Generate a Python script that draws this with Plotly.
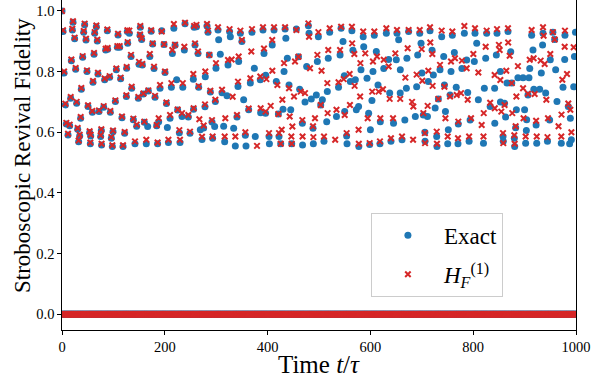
import plotly.graph_objects as go

# ---------------- data ----------------
# Exact evolution: revival fidelity at stroboscopic times (non-zero branch)
exact_t = [0, 2, 4, 6.5, 8.4, 11.7, 14.9, 16.9, 18.2, 20.1, 21.4, 24.6, 26.6, 28.5, 30.5, 32.4, 34.4, 36.3, 37.6, 40.2,
           42.2, 44.1, 46.7, 48.6, 50.6, 53.8, 55.1, 55.8, 59, 60.3, 62.3, 63.6, 66.8, 68.7, 70, 72, 75.2, 76.5, 77.0,
           81.1, 83, 85, 88.2, 88.8, 92.7, 94, 96, 97.9, 99.2, 103.8, 105.7, 107.7, 109, 112.2, 114.1, 116.7, 118.7,
           121.9, 125.2, 125.8, 127.1, 127.8,
           131, 134.3, 135.6, 138.8, 142, 145.3, 148.5, 149.8, 151.8, 152.4, 155, 156.3, 158.3, 160.2, 164, 166.7, 168,
           170.9, 173.5, 176.4, 179, 181, 184.2, 186, 188.1, 190.7, 194, 198.5, 200.4, 203.2, 205, 207, 210.2, 212.8,
           214.7, 217.6, 219.9, 223.1, 225, 228.3, 229.6, 233.5, 235, 238, 239.3, 245.8, 249,
           255.5, 256, 257, 258.8, 261.6, 264.6, 265.9, 269.1, 272.4, 275.6, 278.2, 278.8, 282.1, 284, 286.6, 288.6,
           291.8, 293, 297, 298.3, 299.6, 303.5, 304.8, 308, 311.3, 314.5, 316.5, 321, 323, 326, 327.5, 334, 337.2,
           340.4, 342.4, 343.7, 347, 350, 353.4, 356.7, 358, 363.2, 366.4, 369.6, 374.2, 376, 385.8, 386.5,
           391, 393, 396.3, 396, 402.8, 403.5, 409, 412.5, 416.9, 421, 422.2, 425.5, 430, 432, 434, 435.5, 438.4,
           441.7, 445, 446.9, 456, 460, 462.4, 467.6, 468, 472.8, 476, 479.3, 480.6, 485, 488.3, 489, 494.8, 496.8,
           498.8, 503.3, 506.5, 509.7, 515, 516.2, 518, 520.8, 534,
           538, 541, 543, 546.7, 549.3, 550, 553.8, 554.5, 561, 564, 566, 570.7, 572.6, 577, 577.5, 581.7, 586, 587,
           593.4, 596.6, 598.6, 600, 603, 605, 607.6, 611.5, 614.8, 619.3, 618.6, 626, 631, 635.5, 637.5, 640, 645,
           650.4, 651.7, 655, 658, 658.2, 661.5, 667, 670, 671, 674.4, 687.4,
           690, 692, 696, 698.5, 700.3, 703, 706, 706.3, 711, 712.7, 716, 720, 722.5, 726, 729, 729.5, 732.2, 735.4,
           738.7, 742.6, 744, 746, 750.4, 751.6, 755, 756.8, 759.4, 763.3, 767, 771, 770.4, 778, 782.8, 787.3, 789.3,
           792, 794, 802.2, 803.5, 806.8, 810, 820, 821.7, 824.3, 826.2, 833,
           841.7, 842, 845, 846.3, 852.8, 853, 858, 858.5, 861, 863, 865.7, 867.7, 873, 875, 880, 880.7, 882.6, 884,
           887, 897, 900, 902, 903.4, 904, 906.6, 908.5, 910, 913.7, 916.3, 918, 922.4, 923.6, 929.3, 932.5, 935.8,
           935, 941, 944.5, 948.7, 950, 955, 958.5, 960.4, 963, 971.4, 974.7, 978, 978.5, 985, 987.6, 989, 991,
           995.5, 997, 999]
exact_f = [1.0, 0.932, 0.795, 0.690, 0.627, 0.591, 0.621, 0.712, 0.836, 0.937, 0.963, 0.908, 0.808, 0.696, 0.610,
           0.569, 0.588, 0.646, 0.742, 0.847, 0.930, 0.954, 0.904, 0.800, 0.685, 0.599, 0.562, 0.588, 0.666, 0.765,
           0.857, 0.926, 0.948, 0.901, 0.792, 0.668, 0.586, 0.606, 0.558, 0.682, 0.773, 0.871, 0.935, 0.874, 0.781,
           0.666, 0.580, 0.553, 0.602, 0.701, 0.806, 0.880, 0.921, 0.880, 0.776, 0.648, 0.553, 0.597, 0.718, 0.811,
           0.932, 0.893,
           0.926, 0.850, 0.745, 0.641, 0.562, 0.620, 0.712, 0.824, 0.920, 0.946, 0.906, 0.822, 0.726, 0.633, 0.562,
           0.619, 0.736, 0.850, 0.933, 0.891, 0.810, 0.715, 0.621, 0.562, 0.635, 0.745, 0.935, 0.889, 0.797, 0.695,
           0.616, 0.566, 0.646, 0.748, 0.860, 0.943, 0.887, 0.773, 0.673, 0.598, 0.566, 0.652, 0.748, 0.871, 0.958,
           0.650, 0.597,
           0.775, 0.676, 0.946, 0.888, 0.948, 0.860, 0.748, 0.608, 0.576, 0.614, 0.684, 0.783, 0.950, 0.930, 0.855,
           0.733, 0.634, 0.580, 0.619, 0.701, 0.811, 0.937, 0.905, 0.857, 0.730, 0.620, 0.569, 0.720, 0.822, 0.932,
           0.915, 0.613, 0.555, 0.650, 0.751, 0.833, 0.926, 0.899, 0.707, 0.590, 0.555, 0.674, 0.762, 0.930, 0.811,
           0.586, 0.773, 0.664,
           0.937, 0.860, 0.788, 0.663, 0.586, 0.562, 0.888, 0.937, 0.767, 0.660, 0.586, 0.562, 0.676, 0.800, 0.940,
           0.910, 0.844, 0.756, 0.674, 0.562, 0.940, 0.849, 0.742, 0.630, 0.558, 0.700, 0.817, 0.951, 0.926, 0.710,
           0.613, 0.562, 0.723, 0.833, 0.915, 0.690, 0.707, 0.570, 0.635, 0.734, 0.844, 0.930, 0.652,
           0.748, 0.855, 0.943, 0.899, 0.786, 0.668, 0.588, 0.562, 0.767, 0.935, 0.870, 0.773, 0.674, 0.685, 0.553,
           0.806, 0.915, 0.882, 0.778, 0.663, 0.560, 0.608, 0.705, 0.800, 0.920, 0.866, 0.756, 0.635, 0.562, 0.810,
           0.926, 0.840, 0.729, 0.570, 0.630, 0.839, 0.926, 0.905, 0.729, 0.806, 0.575, 0.640, 0.745, 0.844, 0.932,
           0.652,
           0.750, 0.855, 0.926, 0.893, 0.795, 0.657, 0.600, 0.570, 0.652, 0.767, 0.935, 0.870, 0.789, 0.680, 0.586,
           0.553, 0.710, 0.806, 0.915, 0.850, 0.756, 0.668, 0.562, 0.608, 0.723, 0.800, 0.920, 0.863, 0.748, 0.627,
           0.562, 0.810, 0.926, 0.838, 0.731, 0.570, 0.640, 0.833, 0.926, 0.893, 0.707, 0.564, 0.745, 0.844, 0.926,
           0.685,
           0.745, 0.630, 0.855, 0.926, 0.800, 0.700, 0.586, 0.570, 0.696, 0.650, 0.762, 0.932, 0.865, 0.762, 0.580,
           0.553, 0.615, 0.674, 0.780, 0.780, 0.674, 0.564, 0.606, 0.641, 0.723, 0.780, 0.810, 0.920, 0.871, 0.742,
           0.624, 0.564, 0.742, 0.795, 0.926, 0.888, 0.729, 0.570, 0.640, 0.839, 0.930, 0.906, 0.806, 0.701, 0.564,
           0.748, 0.840, 0.920, 0.685, 0.562, 0.646, 0.575, 0.750, 0.850, 0.930]

# First-order Floquet Hamiltonian H_F^(1): same quantity (non-zero branch)
hf_t = [0, 2, 4, 6.5, 8.4, 11.7, 14.9, 16.9, 18.2, 20.1, 21.4, 24.6, 26.6, 28.5, 30.5, 32.4, 34.4, 36.3, 37.6, 40.2,
        42.2, 44.1, 46.7, 48.6, 50.6, 53.8, 55.1, 55.8, 59, 60.3, 62.3, 63.6, 66.8, 68.7, 70, 72, 75.2, 76.5, 77.0,
        81.1, 83, 85, 88.2, 88.8, 92.7, 94, 96, 97.9, 99.2, 103.8, 105.7, 107.7, 109, 112.2, 114.1, 116.7, 118.7,
        121.9, 125.2, 125.8, 127.1, 127.8,
        131, 134.3, 135.6, 138.8, 142, 145.3, 148.5, 149.8, 151.8, 152.4, 155, 156.3, 158.3, 160.2, 164, 168,
        170.9, 173.5, 176.4, 179, 181, 184.2, 186, 188.1, 190.7, 194, 198.5, 200.4, 203.2, 207, 210.2, 212.8,
        214.7, 217.6, 219.9, 225, 228.3, 229.6, 233.5, 235, 238, 239.3, 245.8, 249,
        255.5, 256, 257, 258.8, 261.6, 264.6, 265.9, 267.2, 272.4, 275.6, 278.2, 278.8, 282.1, 284, 286.6, 288.6,
        291.8, 293, 298.3, 299.6, 303.5, 311.3, 317.7, 316.5, 323, 326, 330, 332, 337.2, 340.4, 342.4, 343.7, 347,
        350, 356.7, 363.2, 366.4, 369.6, 368.3, 379.4, 385.8, 386.5,
        391, 393, 397.6, 396, 402.8, 406, 409, 409.2, 412.5, 419, 421, 422.2, 425.5, 427.4, 428.7, 432, 434, 441.7,
        443, 446.2, 446.9, 448.2, 451.4, 453.3, 456, 460, 464.4, 467.6, 468, 472.8, 479.3, 480.6, 482.5, 488.3,
        489, 492.2, 496.8, 498.8, 503.3, 505, 509.7, 516.2, 516.8, 518, 520.8, 531.5, 534,
        538, 541, 543, 548, 550, 553.8, 559.6, 560.2, 564, 564.5, 568.7, 569.3, 577, 577.5, 580, 580.5, 586, 590,
        594.7, 598.6, 603.5, 605, 607.6, 612.8, 616, 619.3, 618.6, 624.5, 626, 631, 635.5, 637.5, 640, 644, 648.5,
        651.7, 658, 661.5, 668, 672.5, 674.4, 681, 683, 683.5,
        690, 696, 699.8, 701, 703, 706, 706.3, 711.4, 712.7, 716, 716.5, 720.5, 721, 729, 729.5, 732.2, 735.4,
        738.7, 744, 746, 750.4, 755, 756.8, 759.4, 764.6, 767.9, 771, 770.4, 776.3, 778, 782.8, 787.3, 789.3, 792,
        795.8, 800.3, 803.5, 810, 816.5, 820, 820.5, 824.3, 826.2, 833,
        841.7, 842, 846.3, 850, 851.5, 852.8, 854.7, 858, 858.5, 861, 864.4, 867.7, 868, 871, 875, 876, 880, 880.7,
        882.6, 884, 887, 897, 898, 902, 906.6, 910, 913.7, 917.6, 919.6, 922.4, 923.6, 931.2, 935.8, 937, 939,
        942.3, 944.5, 945.5, 950, 955, 958.5, 966, 971.4, 971.8, 973.4, 978, 978.5, 982.5, 985, 989, 991, 995.5]
hf_f = [1.0, 0.936, 0.800, 0.694, 0.631, 0.595, 0.625, 0.716, 0.840, 0.941, 0.966, 0.912, 0.812, 0.700, 0.614,
        0.573, 0.592, 0.650, 0.746, 0.851, 0.934, 0.958, 0.908, 0.804, 0.689, 0.603, 0.566, 0.592, 0.670, 0.769,
        0.861, 0.930, 0.952, 0.905, 0.796, 0.672, 0.590, 0.610, 0.562, 0.686, 0.777, 0.875, 0.939, 0.878, 0.785,
        0.670, 0.584, 0.557, 0.606, 0.705, 0.810, 0.884, 0.925, 0.884, 0.780, 0.652, 0.557, 0.601, 0.722, 0.815,
        0.936, 0.897,
        0.935, 0.855, 0.750, 0.645, 0.570, 0.625, 0.716, 0.832, 0.922, 0.950, 0.910, 0.825, 0.728, 0.635, 0.575,
        0.738, 0.858, 0.936, 0.893, 0.816, 0.720, 0.624, 0.566, 0.646, 0.756, 0.932, 0.890, 0.800, 0.698, 0.575,
        0.657, 0.762, 0.871, 0.957, 0.889, 0.675, 0.607, 0.575, 0.663, 0.762, 0.882, 0.961, 0.657, 0.602,
        0.792, 0.679, 0.950, 0.893, 0.954, 0.866, 0.752, 0.643, 0.585, 0.622, 0.692, 0.800, 0.957, 0.935, 0.855,
        0.737, 0.640, 0.586, 0.707, 0.828, 0.946, 0.740, 0.646, 0.586, 0.838, 0.940, 0.840, 0.717, 0.586, 0.657,
        0.767, 0.850, 0.935, 0.904, 0.600, 0.678, 0.778, 0.940, 0.866, 0.555, 0.784, 0.679,
        0.946, 0.876, 0.775, 0.668, 0.597, 0.687, 0.904, 0.803, 0.946, 0.756, 0.660, 0.597, 0.562, 0.608, 0.707,
        0.828, 0.946, 0.745, 0.652, 0.586, 0.562, 0.619, 0.718, 0.833, 0.937, 0.849, 0.734, 0.640, 0.586, 0.729,
        0.959, 0.915, 0.811, 0.620, 0.584, 0.646, 0.855, 0.930, 0.690, 0.803, 0.586, 0.762, 0.663, 0.871, 0.943,
        0.575, 0.674,
        0.765, 0.871, 0.948, 0.775, 0.657, 0.597, 0.792, 0.690, 0.948, 0.893, 0.858, 0.753, 0.608, 0.562, 0.718,
        0.828, 0.932, 0.860, 0.646, 0.564, 0.734, 0.833, 0.932, 0.850, 0.734, 0.646, 0.570, 0.742, 0.839, 0.943,
        0.817, 0.710, 0.580, 0.646, 0.860, 0.937, 0.710, 0.586, 0.780, 0.877, 0.937, 0.700, 0.575, 0.685,
        0.790, 0.937, 0.874, 0.770, 0.663, 0.597, 0.564, 0.687, 0.803, 0.946, 0.896, 0.858, 0.753, 0.602, 0.562,
        0.710, 0.822, 0.935, 0.750, 0.646, 0.586, 0.718, 0.833, 0.932, 0.844, 0.723, 0.635, 0.580, 0.729, 0.836,
        0.950, 0.811, 0.707, 0.586, 0.646, 0.858, 0.943, 0.797, 0.624, 0.586, 0.663, 0.882, 0.935, 0.697,
        0.789, 0.679, 0.940, 0.888, 0.871, 0.772, 0.668, 0.597, 0.564, 0.690, 0.803, 0.943, 0.896, 0.852, 0.762,
        0.663, 0.590, 0.562, 0.620, 0.718, 0.818, 0.745, 0.646, 0.586, 0.727, 0.839, 0.937, 0.844, 0.726, 0.638,
        0.586, 0.836, 0.946, 0.918, 0.825, 0.707, 0.584, 0.646, 0.858, 0.930, 0.906, 0.620, 0.586, 0.658, 0.773,
        0.882, 0.935, 0.792, 0.695, 0.674, 0.600, 0.880]

# all other stroboscopic times: fidelity ~ 0 (both methods)
zero_t = list(range(0, 1001))
zero_f = [0.0] * len(zero_t)

x_ticks = [0, 200, 400, 600, 800, 1000]
y_ticks = [0.0, 0.2, 0.4, 0.6, 0.8, 1.0]

BLUE = "#1f77b4"
RED = "#d62728"
FONT = "Liberation Serif"

fig = go.Figure()
fig.add_trace(go.Scatter(x=zero_t, y=zero_f, mode="markers", showlegend=False, hoverinfo="skip",
                         marker=dict(color=BLUE, size=7, symbol="circle")))
fig.add_trace(go.Scatter(x=exact_t, y=exact_f, mode="markers", name="Exact", legendgroup="a",
                         marker=dict(color=BLUE, size=7, symbol="circle")))
fig.add_trace(go.Scatter(x=zero_t, y=zero_f, mode="markers", showlegend=False, hoverinfo="skip",
                         marker=dict(color=RED, size=5.5, symbol="x-thin", line=dict(color=RED, width=2))))
fig.add_trace(go.Scatter(x=hf_t, y=hf_f, mode="markers", legendgroup="b",
                         name="<i>H</i><sub><i>F</i></sub><sup>(1)</sup>",
                         marker=dict(color=RED, size=5.5, symbol="x-thin", line=dict(color=RED, width=2))))

fig.update_layout(
    width=614, height=381,
    margin=dict(l=62, r=38, t=0, b=51),
    paper_bgcolor="white", plot_bgcolor="white",
    font=dict(family=FONT, color="black", size=14),
    showlegend=True,
    legend=dict(x=0.601, y=0.355, xanchor="left", yanchor="top",
                bgcolor="white", bordercolor="#cccccc", borderwidth=1,
                font=dict(family=FONT, size=23), itemwidth=62, tracegroupgap=6,
                entrywidth=100),
    xaxis=dict(range=[0, 1000], tickvals=x_ticks, ticktext=[str(v) for v in x_ticks],
               showgrid=False, zeroline=False, showline=True, linecolor="black", linewidth=1.3,
               ticks="outside", ticklen=3.5, tickwidth=1.2, tickcolor="black",
               tickfont=dict(size=14.5, family=FONT)),
    yaxis=dict(range=[-0.052, 1.036], tickvals=y_ticks, ticktext=[f"{v:.1f}" for v in y_ticks],
               showgrid=False, zeroline=False, showline=True, linecolor="black", linewidth=1.3,
               mirror=True,
               ticks="outside", ticklen=3.5, tickwidth=1.2, tickcolor="black",
               tickfont=dict(size=14.5, family=FONT)),
    annotations=[
        dict(text="Stroboscopic Revival Fidelity", textangle=-90, showarrow=False,
             xref="paper", yref="paper", x=-0.078, y=0.53, xanchor="center", yanchor="middle",
             font=dict(size=23, family=FONT, color="black")),
        dict(text="Time <i>t</i>/<i>τ</i>", showarrow=False,
             xref="paper", yref="paper", x=0.5, y=-0.104, xanchor="center", yanchor="middle",
             font=dict(size=25, family=FONT, color="black")),
    ],
)

fig.write_html("out.html")
